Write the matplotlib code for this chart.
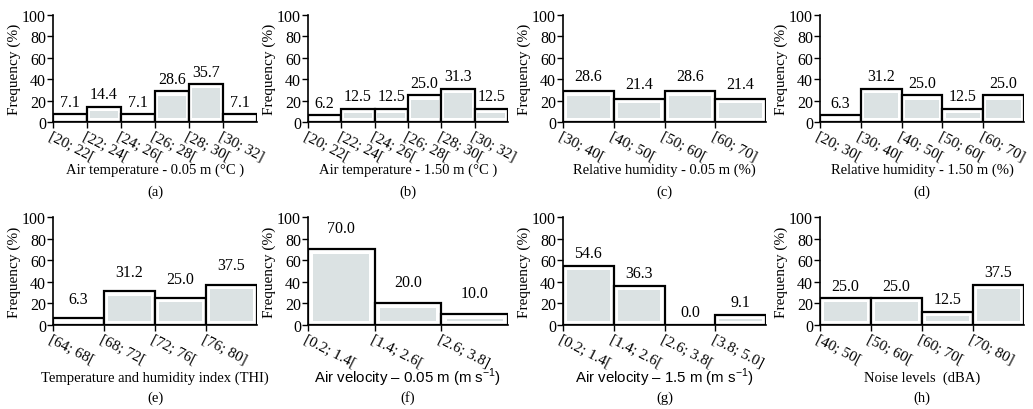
import matplotlib
matplotlib.use("Agg")
import matplotlib.pyplot as plt
import matplotlib.transforms as mtransforms

plt.rcParams['font.family'] = ['Liberation Serif', 'DejaVu Serif']
plt.rcParams['mathtext.fontset'] = 'custom'
plt.rcParams['mathtext.rm'] = 'Liberation Sans'

# dados de cada painel
labels_a = ["[20; 22[", "[22; 24[", "[24; 26[", "[26; 28[", "[28; 30[", "[30; 32]"]
freq_a = [7.1, 14.4, 7.1, 28.6, 35.7, 7.1]
labels_b = ["[20; 22[", "[22; 24[", "[24; 26[", "[26; 28[", "[28; 30[", "[30; 32]"]
freq_b = [6.2, 12.5, 12.5, 25.0, 31.3, 12.5]
labels_c = ["[30; 40[", "[40; 50[", "[50; 60[", "[60; 70]"]
freq_c = [28.6, 21.4, 28.6, 21.4]
labels_d = ["[20; 30[", "[30; 40[", "[40; 50[", "[50; 60[", "[60; 70]"]
freq_d = [6.3, 31.2, 25.0, 12.5, 25.0]
labels_e = ["[64; 68[", "[68; 72[", "[72; 76[", "[76; 80]"]
freq_e = [6.3, 31.2, 25.0, 37.5]
labels_f = ["[0.2; 1.4[", "[1.4; 2.6[", "[2.6; 3.8]"]
freq_f = [70.0, 20.0, 10.0]
labels_g = ["[0.2; 1.4[", "[1.4; 2.6[", "[2.6; 3.8[", "[3.8; 5.0]"]
freq_g = [54.6, 36.3, 0.0, 9.1]
labels_h = ["[40; 50[", "[50; 60[", "[60; 70[", "[70; 80]"]
freq_h = [25.0, 25.0, 12.5, 37.5]

xlabels = ["Air temperature - 0.05 m (°C )", "Air temperature - 1.50 m (°C )",
           "Relative humidity - 0.05 m (%)", "Relative humidity - 1.50 m (%)",
           "Temperature and humidity index (THI)",
           "Air velocity \u2013 0.05 m (m s$^{-1}$)",
           "Air velocity \u2013 1.5 m (m s$^{-1}$)",
           "Noise levels  (dBA)"]
letters = ["(a)", "(b)", "(c)", "(d)", "(e)", "(f)", "(g)", "(h)"]

panels = [(labels_a, freq_a), (labels_b, freq_b), (labels_c, freq_c), (labels_d, freq_d),
          (labels_e, freq_e), (labels_f, freq_f), (labels_g, freq_g), (labels_h, freq_h)]

W, H = 1033, 410
fig = plt.figure(figsize=(W / 100, H / 100), dpi=100)

lefts = [53, 308, 563, 820]
widths = [204, 200, 203, 204]
row_y0 = [123, 326]   # pixel y do zero
row_h = [107, 108]
xlab_y = [170, 378]
let_y = [192, 398]
offs = [3, 3, 5, 3, 8, 9.5, 3.5, 3]
fill = '#dbe2e3'
fs = 11.5
shift = mtransforms.ScaledTranslation(5 / 100, 0, fig.dpi_scale_trans)

for k, (labs, vals) in enumerate(panels):
    r, c = divmod(k, 4)
    ax = fig.add_axes([lefts[c] / W, 1 - row_y0[r] / H, widths[c] / W, row_h[r] / H])
    n = len(vals)
    xs = list(range(n))
    ax.bar(xs, vals, width=1, align='edge', color='white', edgecolor='black', linewidth=1.6, zorder=2)
    # preenchimento interno com margem branca
    m = 4.0
    inner = [max(v - 2 * m, 0) for v in vals]
    ax.bar([x + 0.5 for x in xs], inner, bottom=m, width=0.84, color=fill, linewidth=0, zorder=3)
    for x, v in zip(xs, vals):
        ax.annotate(f"{v:.1f}", (x + 0.5, v), xytext=(0, offs[k]), textcoords='offset points',
                    ha='center', va='bottom', fontsize=fs)
    ax.set_xlim(0, n)
    ax.set_ylim(0, 100)
    ax.set_yticks(range(0, 101, 20))
    ax.set_xticks(range(n))
    ax.set_xticklabels(labs, rotation=-27, ha='left', va='top', rotation_mode='anchor', fontsize=11)
    for t in ax.get_xticklabels():
        t.set_transform(t.get_transform() + shift)
    ax.tick_params(axis='y', labelsize=fs, length=4, width=1, pad=1)
    ax.tick_params(axis='x', length=4, width=1, pad=1)
    for s in ['top', 'right']:
        ax.spines[s].set_visible(False)
    for s in ['left', 'bottom']:
        ax.spines[s].set_linewidth(1.2)
    ax.set_ylabel("Frequency (%)", fontsize=11, labelpad=1)
    cx = (lefts[c] + widths[c] / 2) / W
    if k in (5, 6):
        fig.text(cx, 1 - xlab_y[r] / H, xlabels[k], ha='center', va='center',
                 fontsize=10.8, family=['Liberation Sans', 'DejaVu Sans'])
    else:
        fig.text(cx, 1 - xlab_y[r] / H, xlabels[k], ha='center', va='center', fontsize=10.5)
    fig.text(cx, 1 - let_y[r] / H, letters[k], ha='center', va='center', fontsize=10.5)

fig.savefig("out.png", dpi=100)
